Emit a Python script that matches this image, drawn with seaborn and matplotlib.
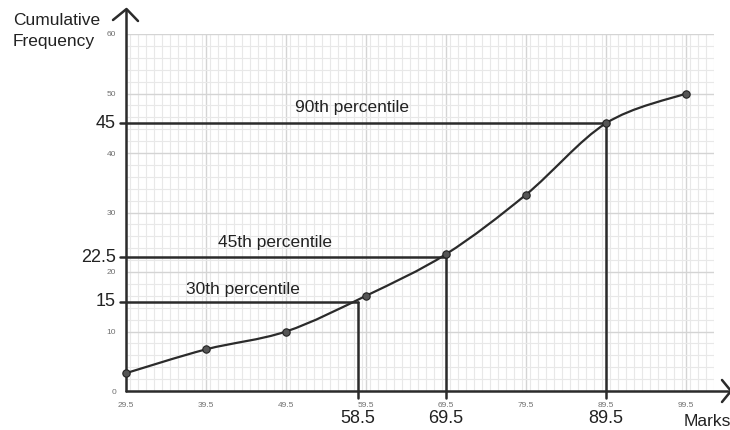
import matplotlib
matplotlib.use("Agg")
import matplotlib.pyplot as plt
from matplotlib.path import Path
from matplotlib.patches import PathPatch
import seaborn as sns
import pandas as pd

# ---- data ----
marks = [29.5, 39.5, 49.5, 59.5, 69.5, 79.5, 89.5, 99.5]
cum_freq = [3, 7, 10, 16, 23, 33, 45, 50]
pct_labels = ["30th percentile", "45th percentile", "90th percentile"]
pct_freq = [15, 22.5, 45]
pct_marks = [58.5, 69.5, 89.5]
pct_freq_text = ["15", "22.5", "45"]
pct_marks_text = ["58.5", "69.5", "89.5"]
x_ticks = [29.5, 39.5, 49.5, 59.5, 69.5, 79.5, 89.5, 99.5]
y_ticks = [0, 10, 20, 30, 40, 50, 60]

sns.set_style("white")
plt.rcParams['font.family'] = ['Liberation Sans', 'DejaVu Sans']

W, H = 730, 430
fig = plt.figure(figsize=(W / 100, H / 100), dpi=100)
ax = fig.add_axes([126 / W, 1 - 391 / H, (714 - 126) / W, (391 - 34) / H])
ax.set_xlim(29.5, 103)
ax.set_ylim(0, 60)

dark = "#2b2b2b"

# grid
for s in ax.spines.values():
    s.set_visible(False)
ax.set_xticks(x_ticks)
ax.set_yticks(y_ticks)
ax.set_xticks([v for v in range(30, 104)], minor=True)
ax.set_yticks([v for v in range(0, 61, 2)], minor=True)
ax.grid(which="major", color="#d4d4d4", linewidth=1.0)
ax.grid(which="minor", color="#e8e8e8", linewidth=0.8)
ax.tick_params(which="both", length=0)
ax.tick_params(axis="both", labelsize=6, labelcolor="#707070")
ax.tick_params(axis="x", pad=8)
ax.tick_params(axis="y", pad=7)
ax.set_axisbelow(True)

# axes with arrows
ax.plot([29.5, 29.5], [0, 64.0], color=dark, lw=1.8, clip_on=False, zorder=5)
ax.plot([29.5, 104.75], [0, 0], color=dark, lw=1.8, clip_on=False, zorder=5)
# arrow heads (figure pixel coordinates)
tf = fig.transFigure
def fx(px):
    return px / W
def fy(py):
    return 1 - py / H
fig.lines.append(plt.Line2D([fx(113), fx(126.5), fx(138)], [fy(20), fy(9), fy(21)],
                            transform=tf, color=dark, lw=1.8))
fig.lines.append(plt.Line2D([fx(722), fx(731), fx(722)], [fy(380), fy(391), fy(402)],
                            transform=tf, color=dark, lw=1.8))

# smooth curve through points (Catmull-Rom as cubic Bezier path)
pts = list(zip(marks, cum_freq))
verts = [pts[0]]
codes = [Path.MOVETO]
n = len(pts)
for i in range(n - 1):
    p0 = pts[i - 1] if i > 0 else pts[i]
    p1 = pts[i]
    p2 = pts[i + 1]
    p3 = pts[i + 2] if i + 2 < n else pts[i + 1]
    c1 = (p1[0] + (p2[0] - p0[0]) / 6, p1[1] + (p2[1] - p0[1]) / 6)
    c2 = (p2[0] - (p3[0] - p1[0]) / 6, p2[1] - (p3[1] - p1[1]) / 6)
    verts += [c1, c2, p2]
    codes += [Path.CURVE4] * 3
ax.add_patch(PathPatch(Path(verts, codes), facecolor="none", edgecolor=dark, lw=1.6, zorder=4))

df = pd.DataFrame({"marks": marks, "cf": cum_freq})
sns.scatterplot(data=df, x="marks", y="cf", ax=ax, s=28, color="#555555",
                edgecolor="#222222", linewidth=0.8, zorder=6, clip_on=False)
ax.set_xlabel("")
ax.set_ylabel("")

# percentile lines
label_pos = [(44.1, 17.1), (48.1, 24.9), (57.7, 47.6)]
for lab, f, m, ft, mt, (lx, ly) in zip(pct_labels, pct_freq, pct_marks,
                                       pct_freq_text, pct_marks_text, label_pos):
    ax.plot([28.75, m], [f, f], color=dark, lw=1.8, clip_on=False, zorder=5)
    ax.plot([m, m], [f, -1.2], color=dark, lw=1.8, clip_on=False, zorder=5)
    ax.text(lx, ly, lab, ha="center", va="center", fontsize=12.5, color="#222222")
    ax.text(28.2, f, ft, ha="right", va="center", fontsize=13, color="#222222", clip_on=False)
    ax.text(m, -4.6, mt, ha="center", va="center", fontsize=13, color="#222222", clip_on=False)

ax.text(102.2, -5.2, "Marks", ha="center", va="center", fontsize=12.5, color="#222222", clip_on=False)
fig.text(13 / W, 1 - 31 / H, "Cumulative\nFrequency", ha="left", va="center",
         fontsize=12.5, color="#222222", linespacing=1.45)

fig.savefig("out.png", dpi=100)
